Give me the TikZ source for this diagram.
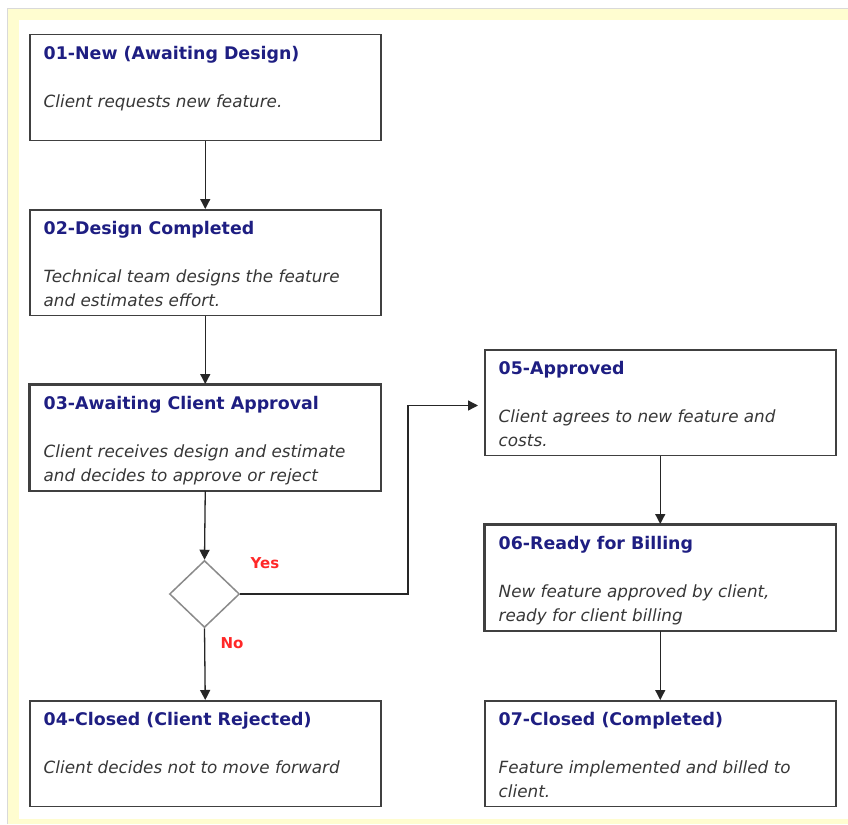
\documentclass[tikz,border=0pt]{standalone}
\usepackage{fontspec}
\setmainfont{DejaVu Sans}
\usetikzlibrary{shapes.geometric,arrows.meta,calc}
\definecolor{ttlblue}{RGB}{30,30,130}
\definecolor{dgray}{RGB}{55,55,55}
\definecolor{boxline}{RGB}{64,64,64}
\definecolor{bgyellow}{RGB}{255,253,208}
\definecolor{yesred}{RGB}{255,40,40}
\definecolor{diagray}{RGB}{138,138,138}
\newcommand\dstr{\rule{0pt}{12pt}}
\begin{document}
\begin{tikzpicture}[x=1pt,y=-1pt,
  flowbox/.style={draw=boxline,line width=1.5pt,fill=white,minimum width=351pt,minimum height=105.5pt,anchor=north west,inner sep=0pt},
  ttl/.style={font=\fontsize{17.4}{20}\selectfont\bfseries,text=ttlblue,anchor=base west,inner sep=0pt},
  desc/.style={font=\fontsize{16.8}{24}\selectfont\itshape,text=dgray,anchor=north west,inner sep=0pt,align=left},
  arr/.style={draw=black!85,line width=1.3pt,-{Triangle[length=10pt,width=10pt]}},
  decision/.style={diamond,draw=diagray,line width=1.5pt,fill=white,minimum width=70pt,minimum height=67pt,inner sep=0pt},
  yn/.style={font=\fontsize{15}{18}\selectfont\bfseries,text=yesred,inner sep=0pt}]
\useasboundingbox (0,0) rectangle (848,824);
% background frame
\fill[bgyellow] (8,9) rectangle (848,824);
\fill[white] (19,20) rectangle (848,819);
\draw[black!15,line width=0.8pt] (7.5,824) -- (7.5,8.5) -- (848,8.5);
% boxes
\node[flowbox] (b1) at (29,34) {};
\node[flowbox] (b2) at (29,209) {};
\node[flowbox] (b3) at (29,384) {};
\node[flowbox] (b4) at (29,700) {};
\node[flowbox] (b5) at (484,349) {};
\node[flowbox] (b6) at (484,524) {};
\node[flowbox] (b7) at (484,700) {};
\node[decision] (dia) at (204.5,594) {};
% titles
\node[ttl] (t1) at ($(b1.north west)+(14.5,25.5)$) {01-New (Awaiting Design)};
\node[ttl] (t2) at ($(b2.north west)+(14.5,25.5)$) {02-Design Completed};
\node[ttl] (t3) at ($(b3.north west)+(14.5,25.5)$) {03-Awaiting Client Approval};
\node[ttl] (t4) at ($(b4.north west)+(14.5,25.5)$) {04-Closed (Client Rejected)};
\node[ttl] (t5) at ($(b5.north west)+(14.5,25.5)$) {05-Approved};
\node[ttl] (t6) at ($(b6.north west)+(14.5,25.5)$) {06-Ready for Billing};
\node[ttl] (t7) at ($(b7.north west)+(14.5,25.5)$) {07-Closed (Completed)};
% descriptions
\node[desc] (d1) at ($(b1.north west)+(14.5,61)$) {\dstr Client requests new feature.};
\node[desc] (d2) at ($(b2.north west)+(14.5,61)$) {\dstr Technical team designs the feature\\and estimates effort.};
\begin{scope}
\clip (b3.north west) rectangle (b3.south east);
\node[desc] (d3) at ($(b3.north west)+(14.5,61)$) {\dstr Client receives design and estimate\\and decides to approve or reject};
\end{scope}
\node[desc] (d4) at ($(b4.north west)+(14.5,61)$) {\dstr Client decides not to move forward};
\node[desc] (d5) at ($(b5.north west)+(14.5,61)$) {\dstr Client agrees to new feature and\\costs.};
\begin{scope}
\clip (b6.north west) rectangle (b6.south east);
\node[desc] (d6) at ($(b6.north west)+(14.5,61)$) {\dstr New feature approved by client,\\ready for client billing};
\end{scope}
\node[desc] (d7) at ($(b7.north west)+(14.5,61)$) {\dstr Feature implemented and billed to\\client.};
% redraw borders of clipped boxes
\draw[boxline,line width=1.5pt] (b3.north west) rectangle (b3.south east);
\draw[boxline,line width=1.5pt] (b6.north west) rectangle (b6.south east);
% connectors
\draw[arr] (b1.south) -- (b2.north);
\draw[arr] (b2.south) -- (b3.north);
\draw[arr] (b3.south) -- (dia.north);
\draw[arr] (dia.south) -- (b4.north);
\coordinate (bend) at (408,594);
\draw[arr,shorten >=6pt] (dia.east) -- (bend) |- ($(b5.west)+(0,3)$);
\draw[arr] (b5.south) -- (b6.north);
\draw[arr] (b6.south) -- (b7.north);
% labels
\node[yn] (yes) at (265,563) {Yes};
\node[yn] (no) at (232,643) {No};
\end{tikzpicture}
\end{document}
